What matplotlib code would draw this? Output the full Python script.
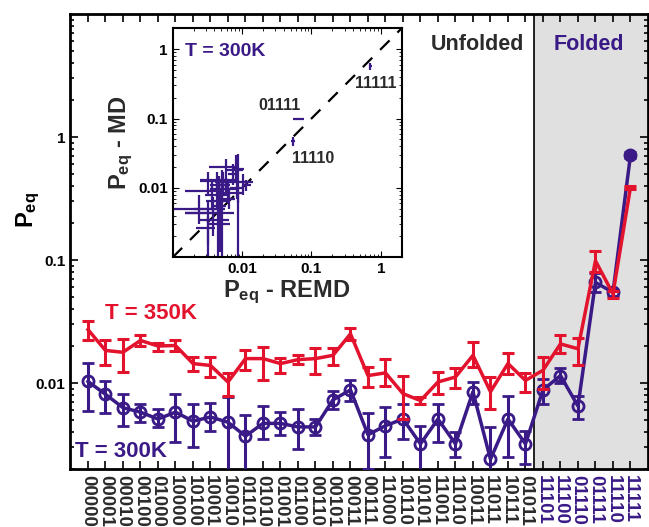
import numpy as np
import matplotlib
matplotlib.use("Agg")
import matplotlib.pyplot as plt

plt.rcParams['font.family'] = ['Liberation Sans', 'DejaVu Sans']
plt.rcParams['font.weight'] = 'bold'
plt.rcParams['mathtext.fontset'] = 'custom'
plt.rcParams['mathtext.rm'] = 'Liberation Sans:bold'
plt.rcParams['mathtext.bf'] = 'Liberation Sans:bold'
plt.rcParams['mathtext.it'] = 'Liberation Sans:bold'

# =========================
# DATA
# =========================
states = ['00000', '00001', '00010', '00100', '01000', '10000', '10100', '10001',
          '10010', '01101', '01010', '01001', '01100', '00110', '00101', '00011',
          '00111', '11000', '10110', '10101', '11001', '11010', '10011', '11011',
          '10111', '01011', '11101', '11100', '01110', '01111', '11110', '11111']
n_unfolded = 26

# T = 350K (REMD)
p350 = [0.0272, 0.0184, 0.0178, 0.0222, 0.0200, 0.0202, 0.0144, 0.0139,
        0.0102, 0.0158, 0.0158, 0.0144, 0.0155, 0.0158, 0.0168, 0.0251,
        0.0115, 0.0121, 0.0082, 0.0072, 0.0102, 0.0112, 0.0168, 0.0085,
        0.0144, 0.0105, 0.0127, 0.0208, 0.0190, 0.0986, 0.0531, 0.39]
p350_hi = [0.0322, 0.0222, 0.0228, 0.0248, 0.0212, 0.0222, 0.0163, 0.0163,
           0.0121, 0.0187, 0.0196, 0.0160, 0.0168, 0.0194, 0.0194, 0.0281,
           0.0135, 0.0158, 0.0115, 0.0077, 0.0124, 0.0133, 0.0214, 0.0112,
           0.0175, 0.0120, 0.0163, 0.0244, 0.0234, 0.119, 0.0564, 0.40]
p350_lo = [0.0222, 0.0139, 0.0124, 0.0201, 0.0182, 0.0182, 0.0125, 0.0112,
           0.0079, 0.0127, 0.0105, 0.0120, 0.0142, 0.0119, 0.0139, 0.0225,
           0.0093, 0.0095, 0.0051, 0.0067, 0.0082, 0.0092, 0.0135, 0.0061,
           0.0118, 0.0084, 0.0089, 0.0175, 0.0141, 0.0794, 0.0492, 0.38]

# T = 300K (REMD)
p300 = [0.0103, 0.0081, 0.0063, 0.0058, 0.0051, 0.0058, 0.0049, 0.0053,
        0.0048, 0.0037, 0.0047, 0.0047, 0.0044, 0.0044, 0.0073, 0.0088,
        0.0038, 0.0045, 0.0051, 0.0032, 0.0051, 0.0032, 0.0085, 0.0024,
        0.0051, 0.0032, 0.0088, 0.0115, 0.0065, 0.0658, 0.0546, 0.71]
p300_hi = [0.0146, 0.0103, 0.0081, 0.0067, 0.0061, 0.0082, 0.0068, 0.0069,
           0.0077, 0.0055, 0.0065, 0.0058, 0.0061, 0.0051, 0.0086, 0.0105,
           0.0057, 0.0064, 0.0067, 0.0045, 0.0067, 0.0040, 0.0102, 0.0044,
           0.0078, 0.0041, 0.0107, 0.0133, 0.0079, 0.0778, 0.0571, 0.75]
p300_lo = [0.0059, 0.0057, 0.0045, 0.0048, 0.0044, 0.0033, 0.0030, 0.0041,
           0.0015, 0.0015, 0.0035, 0.0038, 0.0029, 0.0038, 0.0062, 0.0072,
           0.0020, 0.0025, 0.0035, 0.0015, 0.0033, 0.0025, 0.0068, 0.0010,
           0.0025, 0.0022, 0.0068, 0.0100, 0.0051, 0.0546, 0.0514, 0.67]

# T = 300K (MD), inset y values
pmd = [0.0120, 0.0180, 0.0095, 0.0110, 0.0085, 0.0200, 0.0065, 0.0120,
       0.0044, 0.0090, 0.0110, 0.0055, 0.0080, 0.0125, 0.0160, 0.0190,
       0.0050, 0.0035, 0.0095, 0.0044, 0.0030, 0.0125, 0.0100, 0.0050,
       0.0130, 0.0026, 0.0085, 0.0110, 0.0070, 0.100, 0.047, 0.57]
pmd_hi = [0.016, 0.030, 0.013, 0.014, 0.012, 0.026, 0.009, 0.017,
          0.007, 0.012, 0.015, 0.008, 0.011, 0.017, 0.022, 0.031,
          0.0075, 0.006, 0.013, 0.0065, 0.0055, 0.017, 0.014, 0.008,
          0.018, 0.004, 0.011, 0.013, 0.010, 0.103, 0.055, 0.64]
pmd_lo = [0.008, 0.012, 0.006, 0.008, 0.005, 0.012, 0.003, 0.008,
          0.0012, 0.005, 0.007, 0.003, 0.005, 0.009, 0.011, 0.001,
          0.002, 0.001, 0.006, 0.001, 0.001, 0.008, 0.007, 0.003,
          0.008, 0.0015, 0.006, 0.009, 0.005, 0.097, 0.040, 0.50]

red = '#E3122D'
purple = '#3A1A86'
dark = '#2B2B2B'

x = np.arange(len(states))
p350 = np.array(p350); p300 = np.array(p300); pmd = np.array(pmd)
err350 = [p350 - np.array(p350_lo), np.array(p350_hi) - p350]
err300 = [p300 - np.array(p300_lo), np.array(p300_hi) - p300]
errmd = [pmd - np.array(pmd_lo), np.array(pmd_hi) - pmd]

# =========================
# MAIN PLOT
# =========================
fig = plt.figure(figsize=(6.49, 5.27), dpi=100)
ax = fig.add_axes([0.1086, 0.110, 0.8898, 0.8634])

ax.axvspan(n_unfolded - 0.5, len(states), color='#E0E0E0', zorder=0)
ax.axvline(n_unfolded - 0.5, color='black', lw=1.2, zorder=1)

ax.errorbar(x, p300, yerr=err300, color=purple, lw=2.5, elinewidth=2.2,
            capsize=4.5, capthick=2.2, marker='o', ms=8, mfc='none', mew=2,
            zorder=3)
ax.plot(x[-1:], p300[-1:], 'o', color=purple, ms=8, zorder=3)
ax.errorbar(x, p350, yerr=err350, color=red, lw=2.5, elinewidth=2.2,
            capsize=4.5, capthick=2.2, zorder=4)

ax.set_yscale('log')
ax.set_ylim(0.002, 10)
ax.set_xlim(-1, len(states))
ax.set_xticks(x)
ax.set_xticklabels(states, rotation=270, fontsize=13.5, fontweight='bold',
                   color=dark)
for i, lab in enumerate(ax.get_xticklabels()):
    if i >= n_unfolded:
        lab.set_color(purple)
ax.set_yticks([0.01, 0.1, 1])
ax.set_yticklabels(['0.01', '0.1', '1'], fontsize=11, fontweight='bold')
ax.tick_params(which='both', direction='in', top=True, right=True, width=1.2)
ax.tick_params(which='major', length=6)
ax.tick_params(which='minor', length=3)
ax.tick_params(axis='x', pad=4)
for s in ax.spines.values():
    s.set_linewidth(2)

ax.set_ylabel(r'$\mathbf{P_{eq}}$', fontsize=17)
ax.yaxis.set_label_coords(-0.05, 0.57)

ax.text(1.0, 0.037, 'T = 350K', color=red, fontsize=16, fontweight='bold',
        va='center')
ax.text(-0.75, 0.0028, 'T = 300K', color=purple, fontsize=16,
        fontweight='bold', va='center')
ax.text(24.9, 5.6, 'Unfolded', color=dark, fontsize=15.5, fontweight='bold',
        ha='right', va='center')
ax.text(28.6, 5.6, 'Folded', color=purple, fontsize=15.5, fontweight='bold',
        ha='center', va='center')

# =========================
# INSET: MD vs REMD
# =========================
axi = fig.add_axes([0.2661, 0.5118, 0.3528, 0.4345])
axi.axline((1e-3, 1e-3), (1, 1), color='black', lw=1.6, ls=(0, (6, 5)))
axi.errorbar(p300, pmd, xerr=err300, yerr=errmd, fmt='none', ecolor=purple,
             elinewidth=1.6, capsize=0)
axi.set_xscale('log')
axi.set_yscale('log')
axi.set_xlim(0.001, 2)
axi.set_ylim(0.001, 2)
axi.set_xticks([0.01, 0.1, 1])
axi.set_xticklabels(['0.01', '0.1', '1'], fontsize=11, fontweight='bold')
axi.set_yticks([0.01, 0.1, 1])
axi.set_yticklabels(['0.01', '0.1', '1'], fontsize=11, fontweight='bold')
axi.tick_params(which='both', direction='in', top=True, right=True)
axi.tick_params(which='major', length=4)
axi.tick_params(which='minor', length=2)
for s in axi.spines.values():
    s.set_linewidth(1.5)
axi.set_xlabel(r'$\mathbf{P_{eq}}$ - REMD', fontsize=17, fontweight='bold',
               color=dark, labelpad=2)
axi.set_ylabel(r'$\mathbf{P_{eq}}$ - MD', fontsize=17, fontweight='bold',
               color=dark, labelpad=2)
axi.text(0.054, 0.897, 'T = 300K', transform=axi.transAxes, color=purple,
         fontsize=14, fontweight='bold', va='center')
for i, dx, dy in [(31, 1.2, 0.567), (29, 0.53, 1.52), (30, 1.95, 0.565)]:
    axi.text(p300[i] * dx, pmd[i] * dy, states[i], color=dark, fontsize=11.5,
             fontweight='bold', ha='center', va='center')

fig.savefig('out.png', dpi=100)
